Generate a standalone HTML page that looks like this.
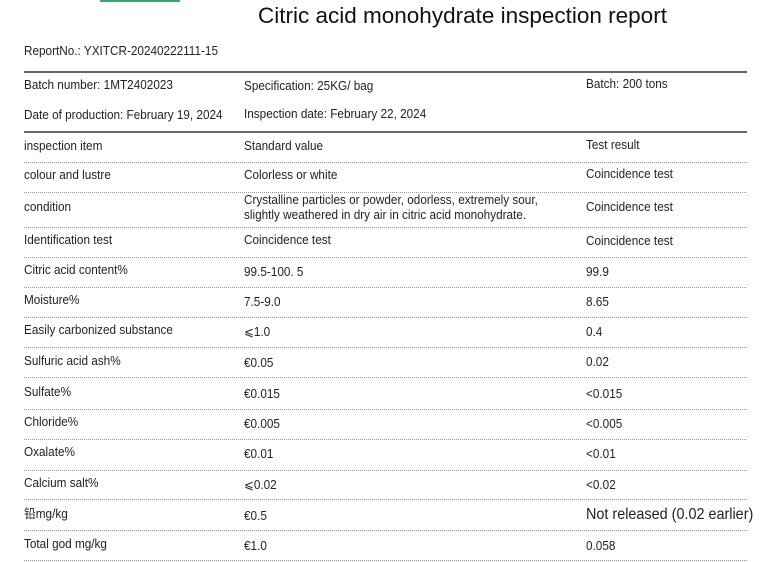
<!DOCTYPE html>
<html><head><meta charset="utf-8"><style>
body{margin:0;width:768px;height:562px;background:#fff;position:relative;overflow:hidden;font-family:"Liberation Sans","Noto Sans CJK SC",sans-serif;color:#222}
.t{position:absolute;font-size:12.5px;line-height:16px;white-space:nowrap;transform:scaleX(0.94);transform-origin:left center}
.s{position:absolute;left:24px;width:723px;height:0;border-top:2px solid #666}
.d{position:absolute;left:24px;width:723px;height:0;border-top:1px dotted #999}
</style></head><body>
<div style="position:absolute;left:100px;top:0;width:80px;height:2px;background:#3aa66a"></div>
<div style="position:absolute;left:258px;top:3px;font-size:22.5px;line-height:26px;white-space:nowrap;color:#111">Citric acid monohydrate inspection report</div>
<div class="t" style="left:24px;top:43px">ReportNo.: YXITCR-20240222111-15</div>
<div class="s" style="top:71px"></div>
<div class="t" style="left:24px;top:77px">Batch number: 1MT2402023</div>
<div class="t" style="left:244px;top:78px">Specification: 25KG/ bag</div>
<div class="t" style="left:586px;top:76px">Batch: 200 tons</div>
<div class="t" style="left:24px;top:107px">Date of production: February 19, 2024</div>
<div class="t" style="left:244px;top:106px">Inspection date: February 22, 2024</div>
<div class="s" style="top:131px"></div>
<div class="t" style="left:24px;top:138px">inspection item</div><div class="t" style="left:244px;top:138px">Standard value</div><div class="t" style="left:586px;top:137px">Test result</div>
<div class="d" style="top:162px"></div>
<div class="t" style="left:24px;top:167px">colour and lustre</div><div class="t" style="left:244px;top:167px">Colorless or white</div><div class="t" style="left:586px;top:166px">Coincidence test</div>
<div class="d" style="top:192px"></div>
<div class="t" style="left:24px;top:199px">condition</div><div class="t" style="left:244px;top:192px">Crystalline particles or powder, odorless, extremely sour,</div><div class="t" style="left:244px;top:207px">slightly weathered in dry air in citric acid monohydrate.</div><div class="t" style="left:586px;top:199px">Coincidence test</div>
<div class="d" style="top:227px"></div>
<div class="t" style="left:24px;top:232px">Identification test</div><div class="t" style="left:244px;top:232px">Coincidence test</div><div class="t" style="left:586px;top:233px">Coincidence test</div>
<div class="d" style="top:257px"></div>
<div class="t" style="left:24px;top:262px">Citric acid content%</div><div class="t" style="left:244px;top:264px">99.5-100. 5</div><div class="t" style="left:586px;top:264px">99.9</div>
<div class="d" style="top:287px"></div>
<div class="t" style="left:24px;top:292px">Moisture%</div><div class="t" style="left:244px;top:294px">7.5-9.0</div><div class="t" style="left:586px;top:294px">8.65</div>
<div class="d" style="top:317px"></div>
<div class="t" style="left:24px;top:322px">Easily carbonized substance</div><div class="t" style="left:244px;top:324px">⩽1.0</div><div class="t" style="left:586px;top:324px">0.4</div>
<div class="d" style="top:347px"></div>
<div class="t" style="left:24px;top:353px">Sulfuric acid ash%</div><div class="t" style="left:244px;top:355px">€0.05</div><div class="t" style="left:586px;top:354px">0.02</div>
<div class="d" style="top:377px"></div>
<div class="t" style="left:24px;top:384px">Sulfate%</div><div class="t" style="left:244px;top:386px">€0.015</div><div class="t" style="left:586px;top:386px">&lt;0.015</div>
<div class="d" style="top:409px"></div>
<div class="t" style="left:24px;top:414px">Chloride%</div><div class="t" style="left:244px;top:416px">€0.005</div><div class="t" style="left:586px;top:416px">&lt;0.005</div>
<div class="d" style="top:439px"></div>
<div class="t" style="left:24px;top:444px">Oxalate%</div><div class="t" style="left:244px;top:446px">€0.01</div><div class="t" style="left:586px;top:446px">&lt;0.01</div>
<div class="d" style="top:470px"></div>
<div class="t" style="left:24px;top:475px">Calcium salt%</div><div class="t" style="left:244px;top:477px">⩽0.02</div><div class="t" style="left:586px;top:477px">&lt;0.02</div>
<div class="d" style="top:499px"></div>
<div class="t" style="left:24px;top:506px">铅mg/kg</div><div class="t" style="left:244px;top:508px">€0.5</div><div style="position:absolute;left:586px;top:506px;font-size:16px;line-height:18px;white-space:nowrap;transform:scaleX(0.9);transform-origin:left center">Not released (0.02 earlier)</div>
<div class="d" style="top:530px"></div>
<div class="t" style="left:24px;top:536px">Total god mg/kg</div><div class="t" style="left:244px;top:538px">€1.0</div><div class="t" style="left:586px;top:538px">0.058</div>
<div class="d" style="top:560px"></div>
</body></html>
